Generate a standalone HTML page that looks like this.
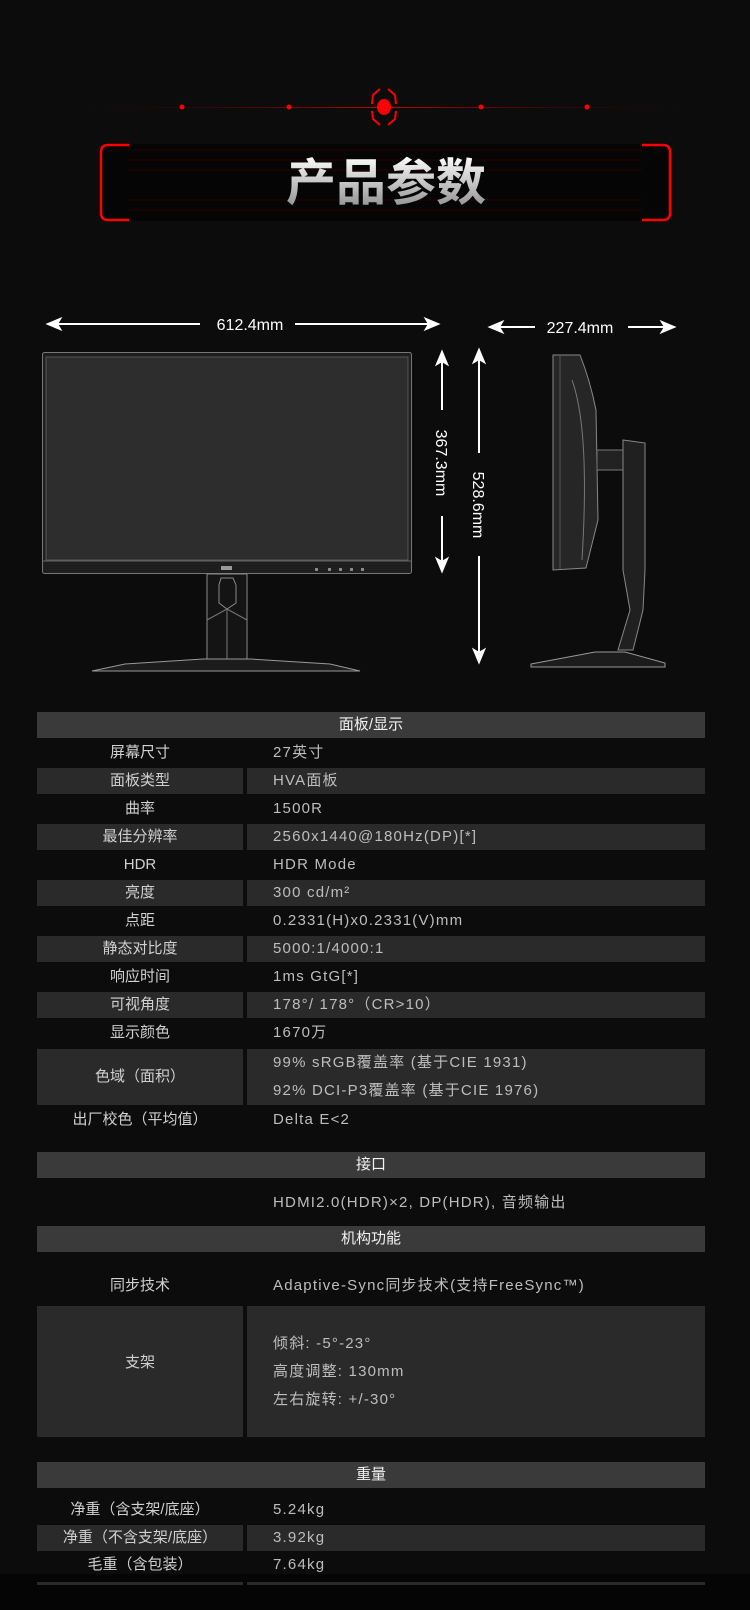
<!DOCTYPE html>
<html><head><meta charset="utf-8">
<style>
*{margin:0;padding:0;box-sizing:border-box}
body{width:750px;height:1610px;background:#0c0c0c;position:relative;overflow:hidden;font-family:"Liberation Sans","Noto Sans CJK SC",sans-serif;}
.a{position:absolute}
.hd{position:absolute;left:37px;width:668px;height:26px;background:#3a3a3a;color:#f2f2f2;font-size:15px;text-align:center;line-height:26px}
.l,.v{position:absolute;height:26px;line-height:26px;font-size:15px}
.l{left:37px;width:206px;text-align:center;color:#d0d0d0}
.v{left:247px;width:458px;padding-left:26px;color:#bdbdbd;letter-spacing:1.2px}
.g{background:#2a2a2a}
</style></head><body>
<div class="a" style="left:0;top:1574px;width:750px;height:36px;background:#050505"></div>
<svg class="a" style="left:0;top:0" width="750" height="700">
<defs>
<linearGradient id="ln" x1="0" x2="1"><stop offset="0" stop-color="#300" stop-opacity="0"/><stop offset="0.5" stop-color="#c00"/><stop offset="1" stop-color="#300" stop-opacity="0"/></linearGradient>
<linearGradient id="tt" x1="0" y1="0" x2="0" y2="1"><stop offset="0" stop-color="#fff"/><stop offset="1" stop-color="#8a8a8a"/></linearGradient>
</defs>
<rect x="80" y="107" width="610" height="1" fill="url(#ln)"/>
<circle cx="182" cy="107" r="2.5" fill="#f00"/><circle cx="289" cy="107" r="2.5" fill="#f00"/>
<circle cx="481" cy="107" r="2.5" fill="#f00"/><circle cx="587" cy="107" r="2.5" fill="#f00"/>
<ellipse cx="384" cy="107" rx="7" ry="8" fill="#f00"/>
<path d="M380 89 L373 95 L372 104 M388 89 L395 95 L396 104 M380 125 L373 119 L372 111 M388 125 L395 119 L396 111" stroke="#f00" stroke-width="2" fill="none"/>
<rect x="100" y="144" width="571" height="77" fill="#050505"/>
<g stroke="#2a0000" stroke-width="1">
<line x1="128" y1="150" x2="642" y2="150"/><line x1="128" y1="160" x2="642" y2="160"/><line x1="128" y1="170" x2="642" y2="170"/><line x1="128" y1="200" x2="642" y2="200"/><line x1="128" y1="210" x2="642" y2="210"/></g>
<path d="M129 145 L108 145 Q101 145 101 152 L101 213 Q101 220 108 220 L129 220" stroke="#f00" stroke-width="2.5" fill="none"/>
<path d="M642 145 L663 145 Q670 145 670 152 L670 213 Q670 220 663 220 L642 220" stroke="#f00" stroke-width="2.5" fill="none"/>
<text x="386" y="200" text-anchor="middle" font-size="50" font-weight="bold" fill="url(#tt)" font-family="Liberation Sans,Noto Sans CJK SC,sans-serif">产品参数</text>
<g stroke="#fff" stroke-width="2" fill="#fff">
<line x1="52" y1="324" x2="200" y2="324"/><line x1="295" y1="324" x2="434" y2="324"/>
<path d="M48 324 L60 319 L57 324 L60 329Z"/><path d="M438 324 L426 319 L429 324 L426 329Z"/>
<line x1="494" y1="327" x2="535" y2="327"/><line x1="628" y1="327" x2="670" y2="327"/>
<path d="M490 327 L502 322 L499 327 L502 332Z"/><path d="M674 327 L662 322 L665 327 L662 332Z"/>
<line x1="442" y1="356" x2="442" y2="410"/><line x1="442" y1="516" x2="442" y2="566"/>
<path d="M442 352 L437 364 L442 361 L447 364Z"/><path d="M442 571 L437 559 L442 562 L447 559Z"/>
<line x1="479" y1="354" x2="479" y2="453"/><line x1="479" y1="556" x2="479" y2="658"/>
<path d="M479 350 L474 362 L479 359 L484 362Z"/><path d="M479 662 L474 650 L479 653 L484 650Z"/>
</g>
<g fill="#fff" font-size="16" font-family="Liberation Sans,sans-serif">
<text x="250" y="330" text-anchor="middle">612.4mm</text>
<text x="580" y="333" text-anchor="middle">227.4mm</text>
<text transform="translate(436,463) rotate(90)" text-anchor="middle">367.3mm</text>
<text transform="translate(473,505) rotate(90)" text-anchor="middle">528.6mm</text>
</g>
<rect x="42.5" y="352.5" width="369" height="221" rx="2" fill="#1e1e1e" stroke="#777"/>
<rect x="46" y="357" width="362" height="203" fill="#2d2d2d" stroke="#555"/>
<line x1="43" y1="561" x2="411" y2="561" stroke="#666"/>
<rect x="221" y="566" width="11" height="4" fill="#999"/>
<g fill="#888"><rect x="315" y="568" width="3" height="3"/><rect x="328" y="568" width="3" height="3"/><rect x="339" y="568" width="3" height="3"/><rect x="350" y="568" width="3" height="3"/><rect x="361" y="568" width="3" height="3"/></g>
<rect x="207" y="574" width="40" height="86" fill="#141414" stroke="#888"/>
<path d="M221 578 L233 578 L236 585 L236 603 L227 609 L219 603 L219 585Z" fill="none" stroke="#888"/>
<path d="M207 620 L227 609 L247 620 M227 609 L227 660" stroke="#777" fill="none"/>
<path d="M92 671 L125 664 L203 659 L251 659 L330 664 L360 671Z" fill="#1c1c1c" stroke="#999"/>
<path d="M553 355 L580 355 Q590 380 596 410 L598 520 L586 568 L553 570Z" fill="#262626" stroke="#888"/>
<line x1="560" y1="356" x2="560" y2="569" stroke="#555"/>
<path d="M572 380 Q590 430 582 560" stroke="#777" fill="none"/>
<rect x="597" y="450" width="27" height="20" fill="#222" stroke="#777"/>
<path d="M623 440 L645 443 L645 570 L643 610 L633 650 L618 650 L630 610 L623 570Z" fill="#202020" stroke="#888"/>
<path d="M531 664 L595 652 L625 652 L665 663 L665 667 L531 667Z" fill="#1c1c1c" stroke="#999"/>
</svg>

<div class="hd" style="top:712px">面板/显示</div>
<div class="l" style="top:740px">屏幕尺寸</div><div class="v" style="top:740px">27英寸</div>
<div class="l g" style="top:768px">面板类型</div><div class="v g" style="top:768px">HVA面板</div>
<div class="l" style="top:796px">曲率</div><div class="v" style="top:796px">1500R</div>
<div class="l g" style="top:824px">最佳分辨率</div><div class="v g" style="top:824px">2560x1440@180Hz(DP)[*]</div>
<div class="l" style="top:852px">HDR</div><div class="v" style="top:852px">HDR Mode</div>
<div class="l g" style="top:880px">亮度</div><div class="v g" style="top:880px">300 cd/m²</div>
<div class="l" style="top:908px">点距</div><div class="v" style="top:908px">0.2331(H)x0.2331(V)mm</div>
<div class="l g" style="top:936px">静态对比度</div><div class="v g" style="top:936px">5000:1/4000:1</div>
<div class="l" style="top:964px">响应时间</div><div class="v" style="top:964px">1ms GtG[*]</div>
<div class="l g" style="top:992px">可视角度</div><div class="v g" style="top:992px">178°/ 178°（CR&gt;10）</div>
<div class="l" style="top:1020px">显示颜色</div><div class="v" style="top:1020px">1670万</div>
<div class="l g" style="top:1049px;height:56px;line-height:56px">色域（面积）</div>
<div class="v g" style="top:1049px;height:56px;line-height:28px">99% sRGB覆盖率 (基于CIE 1931)<br>92% DCI-P3覆盖率 (基于CIE 1976)</div>
<div class="l" style="top:1107px">出厂校色（平均值）</div><div class="v" style="top:1107px">Delta E&lt;2</div>
<div class="hd" style="top:1152px">接口</div>
<div class="v" style="top:1190px">HDMI2.0(HDR)×2, DP(HDR), 音频输出</div>
<div class="hd" style="top:1226px">机构功能</div>
<div class="l" style="top:1273px">同步技术</div><div class="v" style="top:1273px">Adaptive-Sync同步技术(支持FreeSync™)</div>
<div class="l g" style="top:1306px;height:131px;line-height:114px">支架</div>
<div class="v g" style="top:1306px;height:131px;line-height:28px;padding-top:24px">倾斜: -5°-23°<br>高度调整: 130mm<br>左右旋转: +/-30°</div>
<div class="hd" style="top:1462px">重量</div>
<div class="l" style="top:1497px">净重（含支架/底座）</div><div class="v" style="top:1497px">5.24kg</div>
<div class="l g" style="top:1525px">净重（不含支架/底座）</div><div class="v g" style="top:1525px">3.92kg</div>
<div class="l" style="top:1552px">毛重（含包装）</div><div class="v" style="top:1552px">7.64kg</div>
<div class="a" style="left:37px;top:1582px;width:206px;height:3px;background:#2a2a2a"></div>
<div class="a" style="left:247px;top:1582px;width:458px;height:3px;background:#2a2a2a"></div>
</body></html>
